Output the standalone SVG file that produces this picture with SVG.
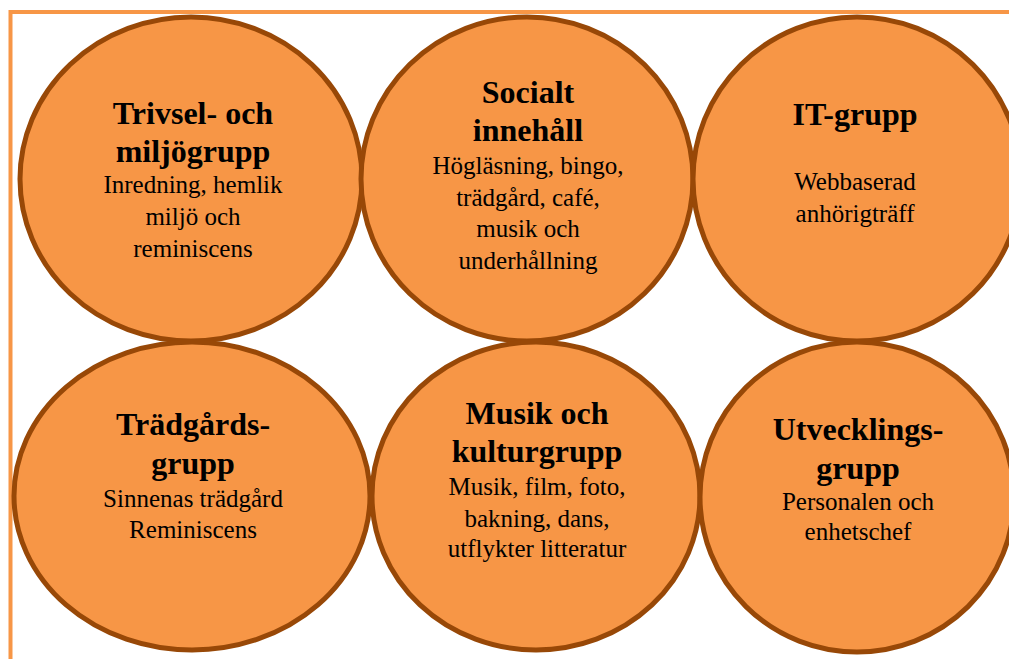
<svg xmlns="http://www.w3.org/2000/svg" width="1009" height="659" viewBox="0 0 1009 659">
  <style>
    .bubble { fill: #F79646; stroke: #984807; stroke-width: 5; }
    .frame { fill: none; stroke: #F79646; stroke-width: 4; }
    text { font-family: "Liberation Serif", "DejaVu Serif", serif; fill: #000; text-anchor: middle; }
    .title { font-size: 32px; font-weight: bold; }
    .body { font-size: 25px; }
  </style>
  <rect width="1009" height="659" fill="#fff"/>
  <!-- outer page frame, open to the right and bottom -->
  <path class="frame" d="M1012 12 H10.5 V662"/>

  <g id="connectors"/>

  <g id="trivsel">
    <ellipse class="bubble" cx="191" cy="179" rx="171" ry="162"/>
    <text class="title" x="193" y="124">Trivsel- och</text>
    <text class="title" x="193" y="162">miljögrupp</text>
    <text class="body" x="193" y="193">Inredning, hemlik</text>
    <text class="body" x="193" y="225">miljö och</text>
    <text class="body" x="193" y="257">reminiscens</text>
  </g>

  <g id="socialt">
    <ellipse class="bubble" cx="527" cy="179" rx="166" ry="162"/>
    <text class="title" x="528" y="103">Socialt</text>
    <text class="title" x="528" y="141">innehåll</text>
    <text class="body" x="528" y="174">Högläsning, bingo,</text>
    <text class="body" x="528" y="206">trädgård, café,</text>
    <text class="body" x="528" y="237">musik och</text>
    <text class="body" x="528" y="269">underhållning</text>
  </g>

  <g id="it">
    <ellipse class="bubble" cx="857" cy="179" rx="164" ry="162"/>
    <text class="title" x="855" y="125">IT-grupp</text>
    <text class="body" x="855" y="190">Webbaserad</text>
    <text class="body" x="855" y="222">anhörigträff</text>
  </g>

  <g id="tradgard">
    <ellipse class="bubble" cx="192" cy="496" rx="178" ry="154"/>
    <text class="title" x="193" y="435">Trädgårds-</text>
    <text class="title" x="193" y="474">grupp</text>
    <text class="body" x="193" y="507">Sinnenas trädgård</text>
    <text class="body" x="193" y="538">Reminiscens</text>
  </g>

  <g id="musik">
    <ellipse class="bubble" cx="536" cy="496" rx="164" ry="154"/>
    <text class="title" x="537" y="424">Musik och</text>
    <text class="title" x="537" y="462">kulturgrupp</text>
    <text class="body" x="537" y="495">Musik, film, foto,</text>
    <text class="body" x="537" y="527">bakning, dans,</text>
    <text class="body" x="537" y="557">utflykter litteratur</text>
  </g>

  <g id="utveckling">
    <ellipse class="bubble" cx="857" cy="497" rx="157" ry="155"/>
    <text class="title" x="858" y="440">Utvecklings-</text>
    <text class="title" x="858" y="479">grupp</text>
    <text class="body" x="858" y="510">Personalen och</text>
    <text class="body" x="858" y="540">enhetschef</text>
  </g>
</svg>
